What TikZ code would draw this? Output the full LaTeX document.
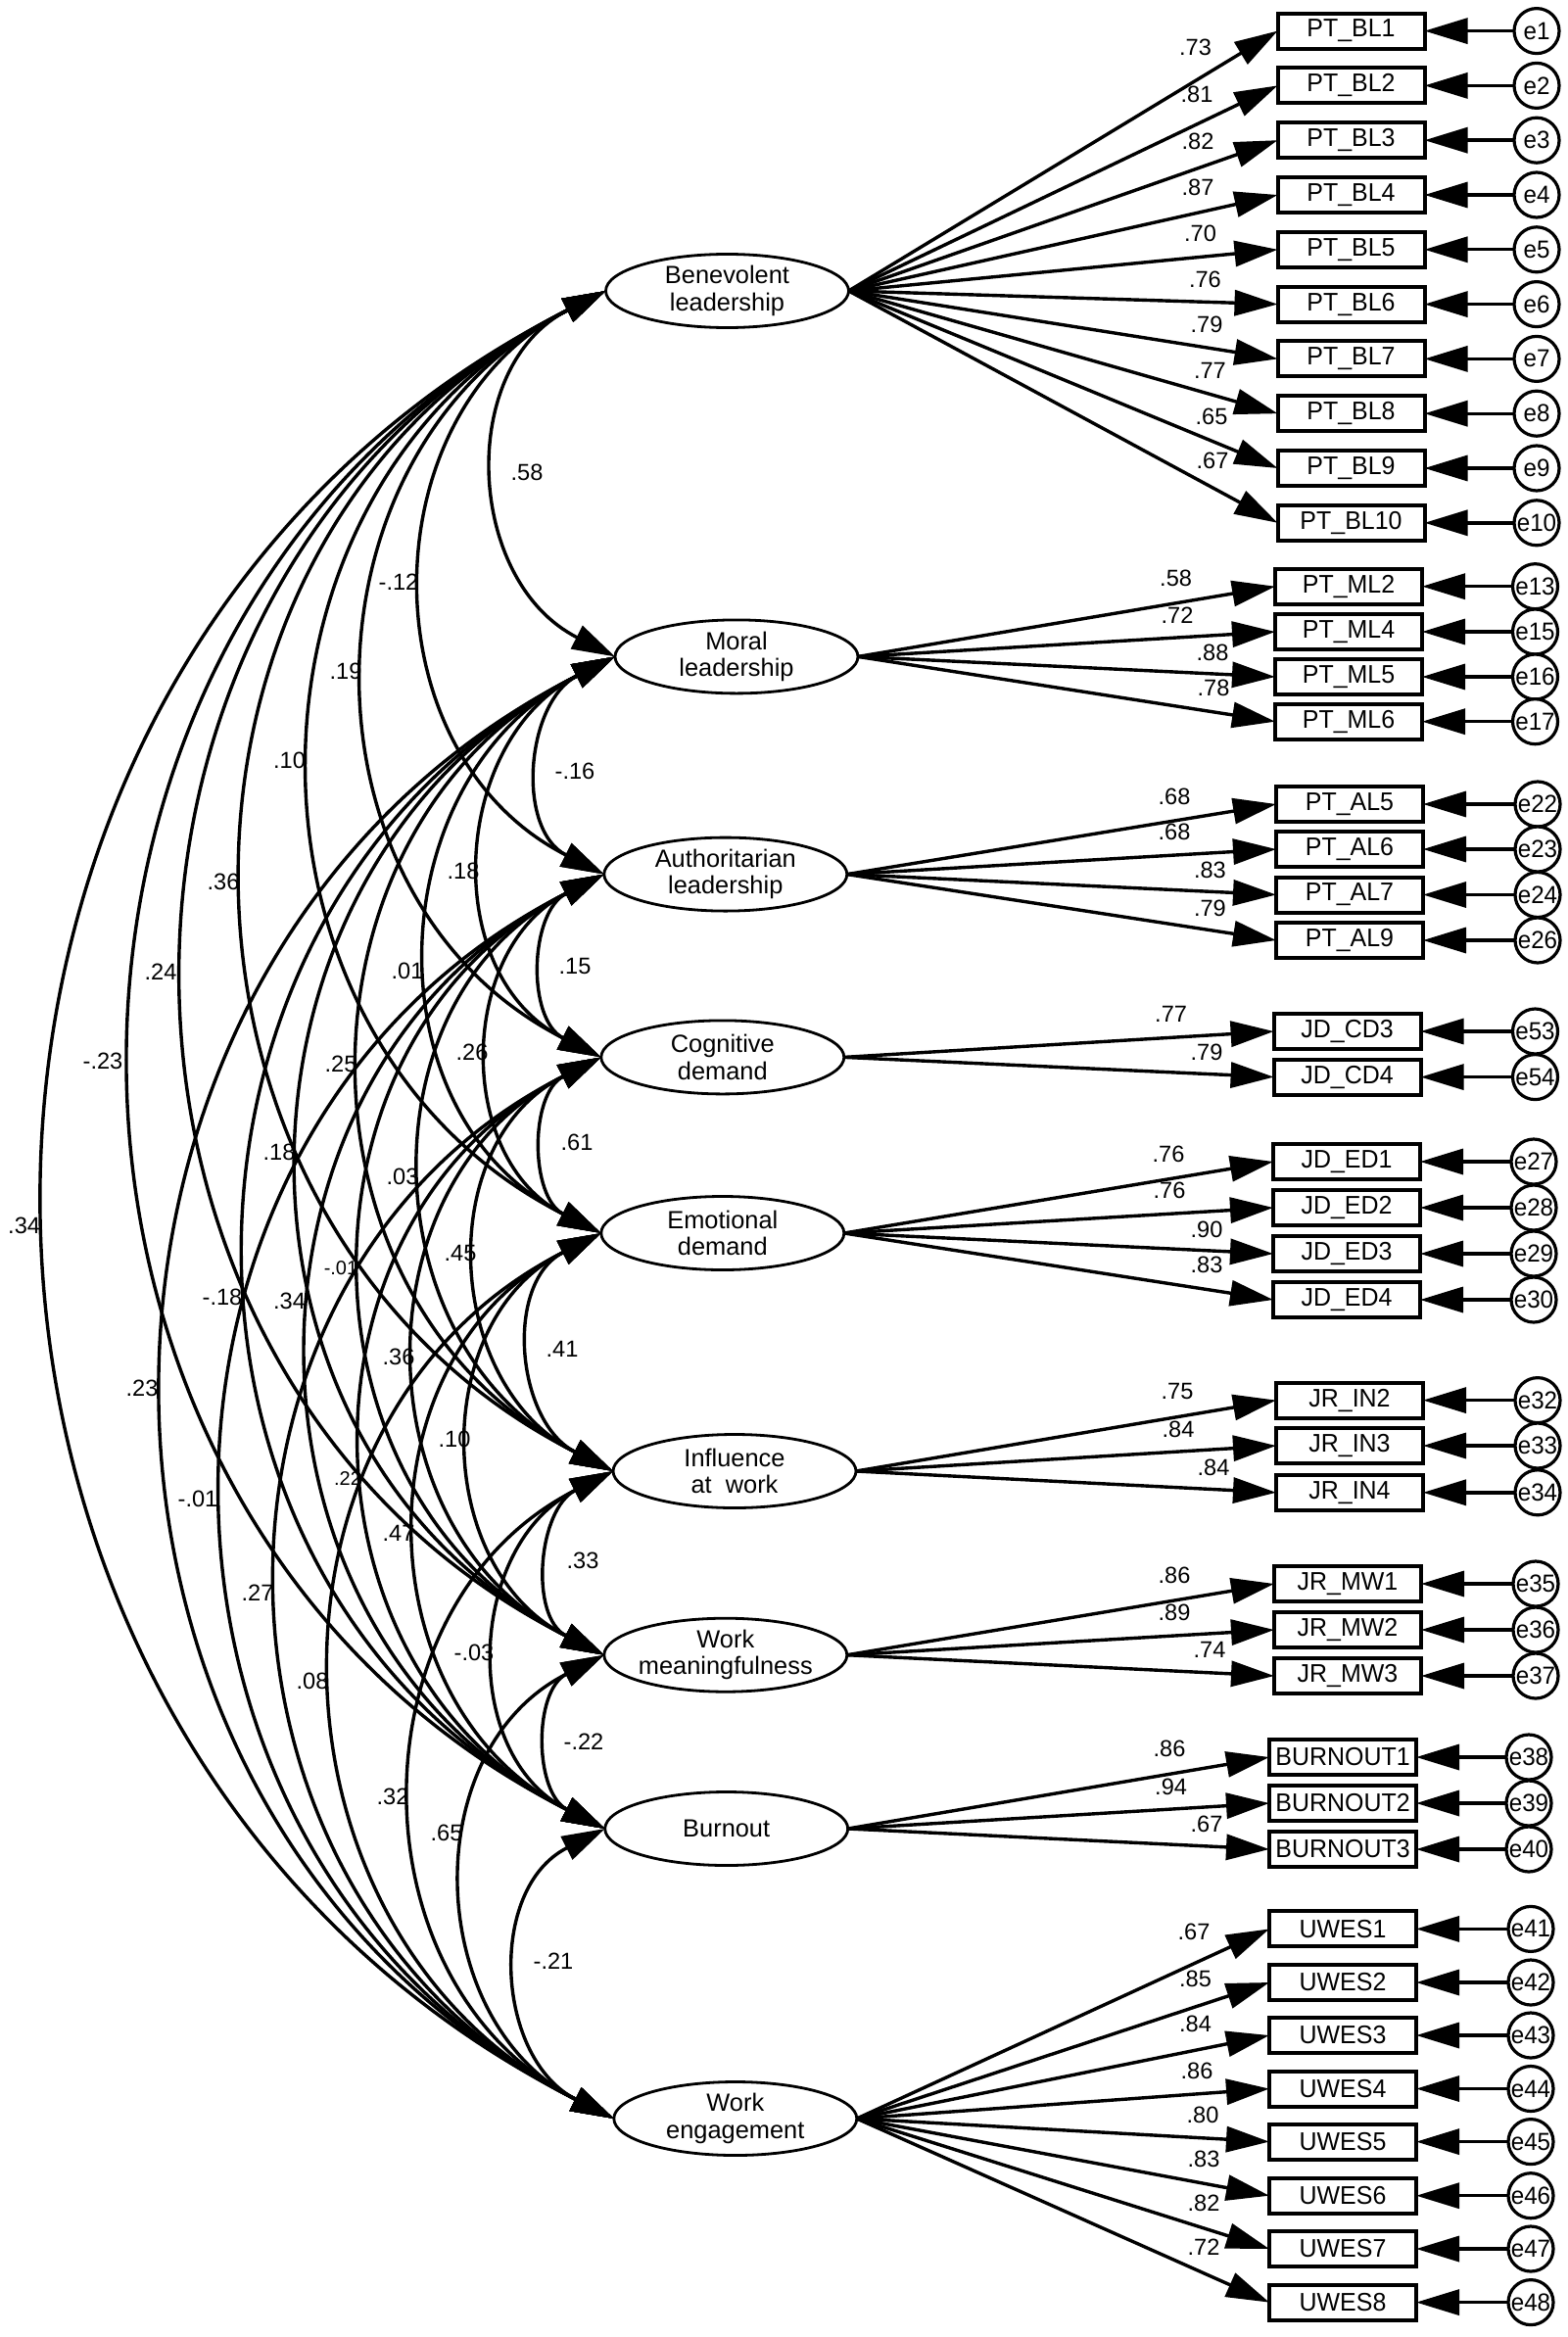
\documentclass[tikz,border=0pt]{standalone}
\usepackage{fontspec}
\setmainfont{Liberation Sans}
\newfontfamily\boxfont[FakeStretch=0.96]{Liberation Sans}
\usetikzlibrary{shapes.geometric,arrows.meta}
\begin{document}
\begin{tikzpicture}[x=0.5pt,y=0.5pt,
  latent/.style={draw, ellipse, line width=1.4pt, minimum width=124pt, minimum height=37.5pt, inner sep=0pt, outer sep=0pt, fill=white},
  lattext/.style={font=\fontsize{12.7pt}{13.7pt}\selectfont, align=center, inner sep=0pt},
  obs/.style={draw, rectangle, line width=2pt, minimum width=75pt, minimum height=18pt, inner sep=0pt, outer sep=0pt, fill=white, font=\boxfont\fontsize{13pt}{14pt}\selectfont},
  err/.style={draw, circle, line width=1.6pt, minimum size=23pt, inner sep=0pt, outer sep=0pt, fill=white, font=\boxfont\fontsize{12.6pt}{14pt}\selectfont},
  coef/.style={inner sep=0pt, font=\fontsize{11.8pt}{12pt}\selectfont},
  coefs/.style={inner sep=0pt, font=\fontsize{10pt}{11pt}\selectfont},
  arr/.style={line width=1.7pt, -{Triangle[length=22pt,width=13pt]}},
  cov/.style={line width=1.7pt, {Triangle[length=22pt,width=13pt]}-{Triangle[length=22pt,width=13pt]}},
  covcurve/.style={out=206.8, in=153.2, looseness=1.17}
]
\fill[white] (0,0) rectangle (1600,-2386);
\useasboundingbox (0,0) rectangle (1600,-2386);

% latent variables
\node[latent] (B)  at (742.5,-297)  {};
\node[latent] (M)  at (752,-670.4)  {};
\node[latent] (A)  at (740.8,-892.6) {};
\node[latent] (C)  at (737.8,-1079.4) {};
\node[latent] (E)  at (737.8,-1259) {};
\node[latent] (I)  at (750,-1502)   {};
\node[latent] (W)  at (740.8,-1689.7) {};
\node[latent] (Bu) at (741.7,-1867) {};
\node[latent] (WE) at (750.8,-2163) {};
\node[lattext] (Bt)  at (B.center)  {Benevolent\\leadership};
\node[lattext] (Mt)  at (M.center)  {Moral\\leadership};
\node[lattext] (At)  at (A.center)  {Authoritarian\\leadership};
\node[lattext] (Ct)  at (C.center)  {Cognitive\\demand};
\node[lattext] (Et)  at (E.center)  {Emotional\\demand};
\node[lattext] (It)  at (I.center)  {Influence\\at\ \ work};
\node[lattext] (Wt)  at (W.center)  {Work\\meaningfulness};
\node[lattext] (But) at (Bu.center) {Burnout};
\node[lattext] (WEt) at (WE.center) {Work\\engagement};

% Benevolent leadership indicators
\foreach \n/\y/\en/\cf/\lx/\ly in {1/31.6/1/.73/1220.5/48.2, 2/87.4/2/.81/1222/96.4, 3/143.2/3/.82/1223/144.6, 4/199/4/.87/1223/191, 5/254.8/5/.70/1225.5/238.6, 6/310.6/6/.76/1230.4/285.7, 7/366.4/7/.79/1232/331.4, 8/422.2/8/.77/1235.4/377.9, 9/478/9/.65/1237/425, 10/533.8/10/.67/1238/470.7}{
  \node[obs] (x\en) at (1379.5,-\y) {PT\_BL\n};
  \node[err] (e\en) at (1569,-\y) {e\en};
  \draw[arr] (B.east) -- (x\en.west);
  \draw[arr] (e\en.west) -- (x\en.east);
  \node[coef] (c\en) at (\lx,-\ly) {\cf};
}
% Moral leadership
\foreach \n/\y/\en/\cf/\lx/\ly in {2/598.7/13/.58/1200.6/590.4, 4/645/15/.72/1202/627.9, 5/691/16/.88/1238/666.4, 6/736.7/17/.78/1239/702}{
  \node[obs] (x\en) at (1377,-\y) {PT\_ML\n};
  \node[err] (e\en) at (1567.5,-\y) {e\en};
  \draw[arr] (M.east) -- (x\en.west);
  \draw[arr] (e\en.west) -- (x\en.east);
  \node[coef] (c\en) at (\lx,-\ly) {\cf};
}
% Authoritarian leadership
\foreach \n/\y/\en/\cf/\lx/\ly in {5/821/22/.68/1199/812.9, 6/867/23/.68/1199/849.3, 7/913.5/24/.83/1235.4/887.9, 9/960/26/.79/1235.4/927}{
  \node[obs] (x\en) at (1378,-\y) {PT\_AL\n};
  \node[err] (e\en) at (1570,-\y) {e\en};
  \draw[arr] (A.east) -- (x\en.west);
  \draw[arr] (e\en.west) -- (x\en.east);
  \node[coef] (c\en) at (\lx,-\ly) {\cf};
}
% Cognitive demand
\foreach \n/\y/\en/\cf/\lx/\ly in {3/1053/53/.77/1195.6/1035, 4/1099.6/54/.79/1232/1074.3}{
  \node[obs] (x\en) at (1375.6,-\y) {JD\_CD\n};
  \node[err] (e\en) at (1567.5,-\y) {e\en};
  \draw[arr] (C.east) -- (x\en.west);
  \draw[arr] (e\en.west) -- (x\en.east);
  \node[coef] (c\en) at (\lx,-\ly) {\cf};
}
% Emotional demand
\foreach \n/\y/\en/\cf/\lx/\ly in {1/1186/27/.76/1193/1178.5, 2/1233/28/.76/1194/1215.6, 3/1280/29/.90/1232/1255, 4/1327/30/.83/1232/1291.4}{
  \node[obs] (x\en) at (1375,-\y) {JD\_ED\n};
  \node[err] (e\en) at (1566,-\y) {e\en};
  \draw[arr] (E.east) -- (x\en.west);
  \draw[arr] (e\en.west) -- (x\en.east);
  \node[coef] (c\en) at (\lx,-\ly) {\cf};
}
% Influence at work
\foreach \n/\y/\en/\cf/\lx/\ly in {2/1429.6/32/.75/1202/1420.7, 3/1476/33/.84/1203/1459.7, 4/1523.8/34/.84/1239/1498}{
  \node[obs] (x\en) at (1378,-\y) {JR\_IN\n};
  \node[err] (e\en) at (1570,-\y) {e\en};
  \draw[arr] (I.east) -- (x\en.west);
  \draw[arr] (e\en.west) -- (x\en.east);
  \node[coef] (c\en) at (\lx,-\ly) {\cf};
}
% Work meaningfulness
\foreach \n/\y/\en/\cf/\lx/\ly in {1/1617/35/.86/1199/1608, 2/1664/36/.89/1199/1646.5, 3/1711/37/.74/1235/1684.8}{
  \node[obs] (x\en) at (1376,-\y) {JR\_MW\n};
  \node[err] (e\en) at (1568,-\y) {e\en};
  \draw[arr] (W.east) -- (x\en.west);
  \draw[arr] (e\en.west) -- (x\en.east);
  \node[coef] (c\en) at (\lx,-\ly) {\cf};
}
% Burnout
\foreach \n/\y/\en/\cf/\lx/\ly in {1/1794/38/.86/1194/1785.3, 2/1841/39/.94/1195.6/1824.7, 3/1888/40/.67/1232/1862.7}{
  \node[obs] (x\en) at (1371,-\y) {BURNOUT\n};
  \node[err] (e\en) at (1561,-\y) {e\en};
  \draw[arr] (Bu.east) -- (x\en.west);
  \draw[arr] (e\en.west) -- (x\en.east);
  \node[coef] (c\en) at (\lx,-\ly) {\cf};
}
% Work engagement
\foreach \n/\y/\en/\cf/\lx/\ly in {1/1969.4/41/.67/1219/1972, 2/2024/42/.85/1220.5/2020.2, 3/2078/43/.84/1220.5/2066.6, 4/2132.5/44/.86/1222/2114.7, 5/2186.6/45/.80/1228/2159.3, 6/2241.7/46/.83/1229/2204, 7/2296/47/.82/1229/2249, 8/2350.6/48/.72/1229/2294}{
  \node[obs] (x\en) at (1371,-\y) {UWES\n};
  \node[err] (e\en) at (1563,-\y) {e\en};
  \draw[arr] (WE.east) -- (x\en.west);
  \draw[arr] (e\en.west) -- (x\en.east);
  \node[coef] (c\en) at (\lx,-\ly) {\cf};
}

% covariances
\foreach \ua/\lb in {B/M,B/A,B/C,B/E,B/I,B/W,B/Bu,B/WE,M/A,M/C,M/E,M/I,M/W,M/Bu,M/WE,A/C,A/E,A/I,A/W,A/Bu,A/WE,C/E,C/I,C/W,C/Bu,C/WE,E/I,E/W,E/Bu,E/WE,I/W,I/Bu,I/WE,W/Bu,W/WE,Bu/WE}
  \draw[cov] (\ua.west) to[covcurve] (\lb.west);

% covariance labels
\foreach \tx/\px/\py [count=\k] in {.58/538/482, -.12/407/594, .19/353/685, .10/295.5/776.5, -.16/587/787, .18/473/889, .36/228/900, .24/164/992, .01/416/991, .15/587/986, -.23/105/1083, .25/348/1086.5, .26/482/1074, .61/589/1166, .18/285/1176, .03/411/1201, .34/24.6/1251, .45/470/1279, -.18/227/1324, .34/295.5/1328, .41/574/1377.5, .36/407/1385, .23/145/1417, .10/464/1469.6, -.01/202/1530, .47/407/1565, .33/595/1593, .27/263/1626, -.03/484/1687.5, .08/319/1716.5, -.22/596/1778, .32/401/1834, .65/456/1871, -.21/565/2002}
  \node[coef] (cv\k) at (\px,-\py) {\tx};
\node[coefs] (cvs1) at (348,-1295) {-.01};
\node[coefs] (cvs2) at (355,-1510) {.22};
\end{tikzpicture}
\end{document}
